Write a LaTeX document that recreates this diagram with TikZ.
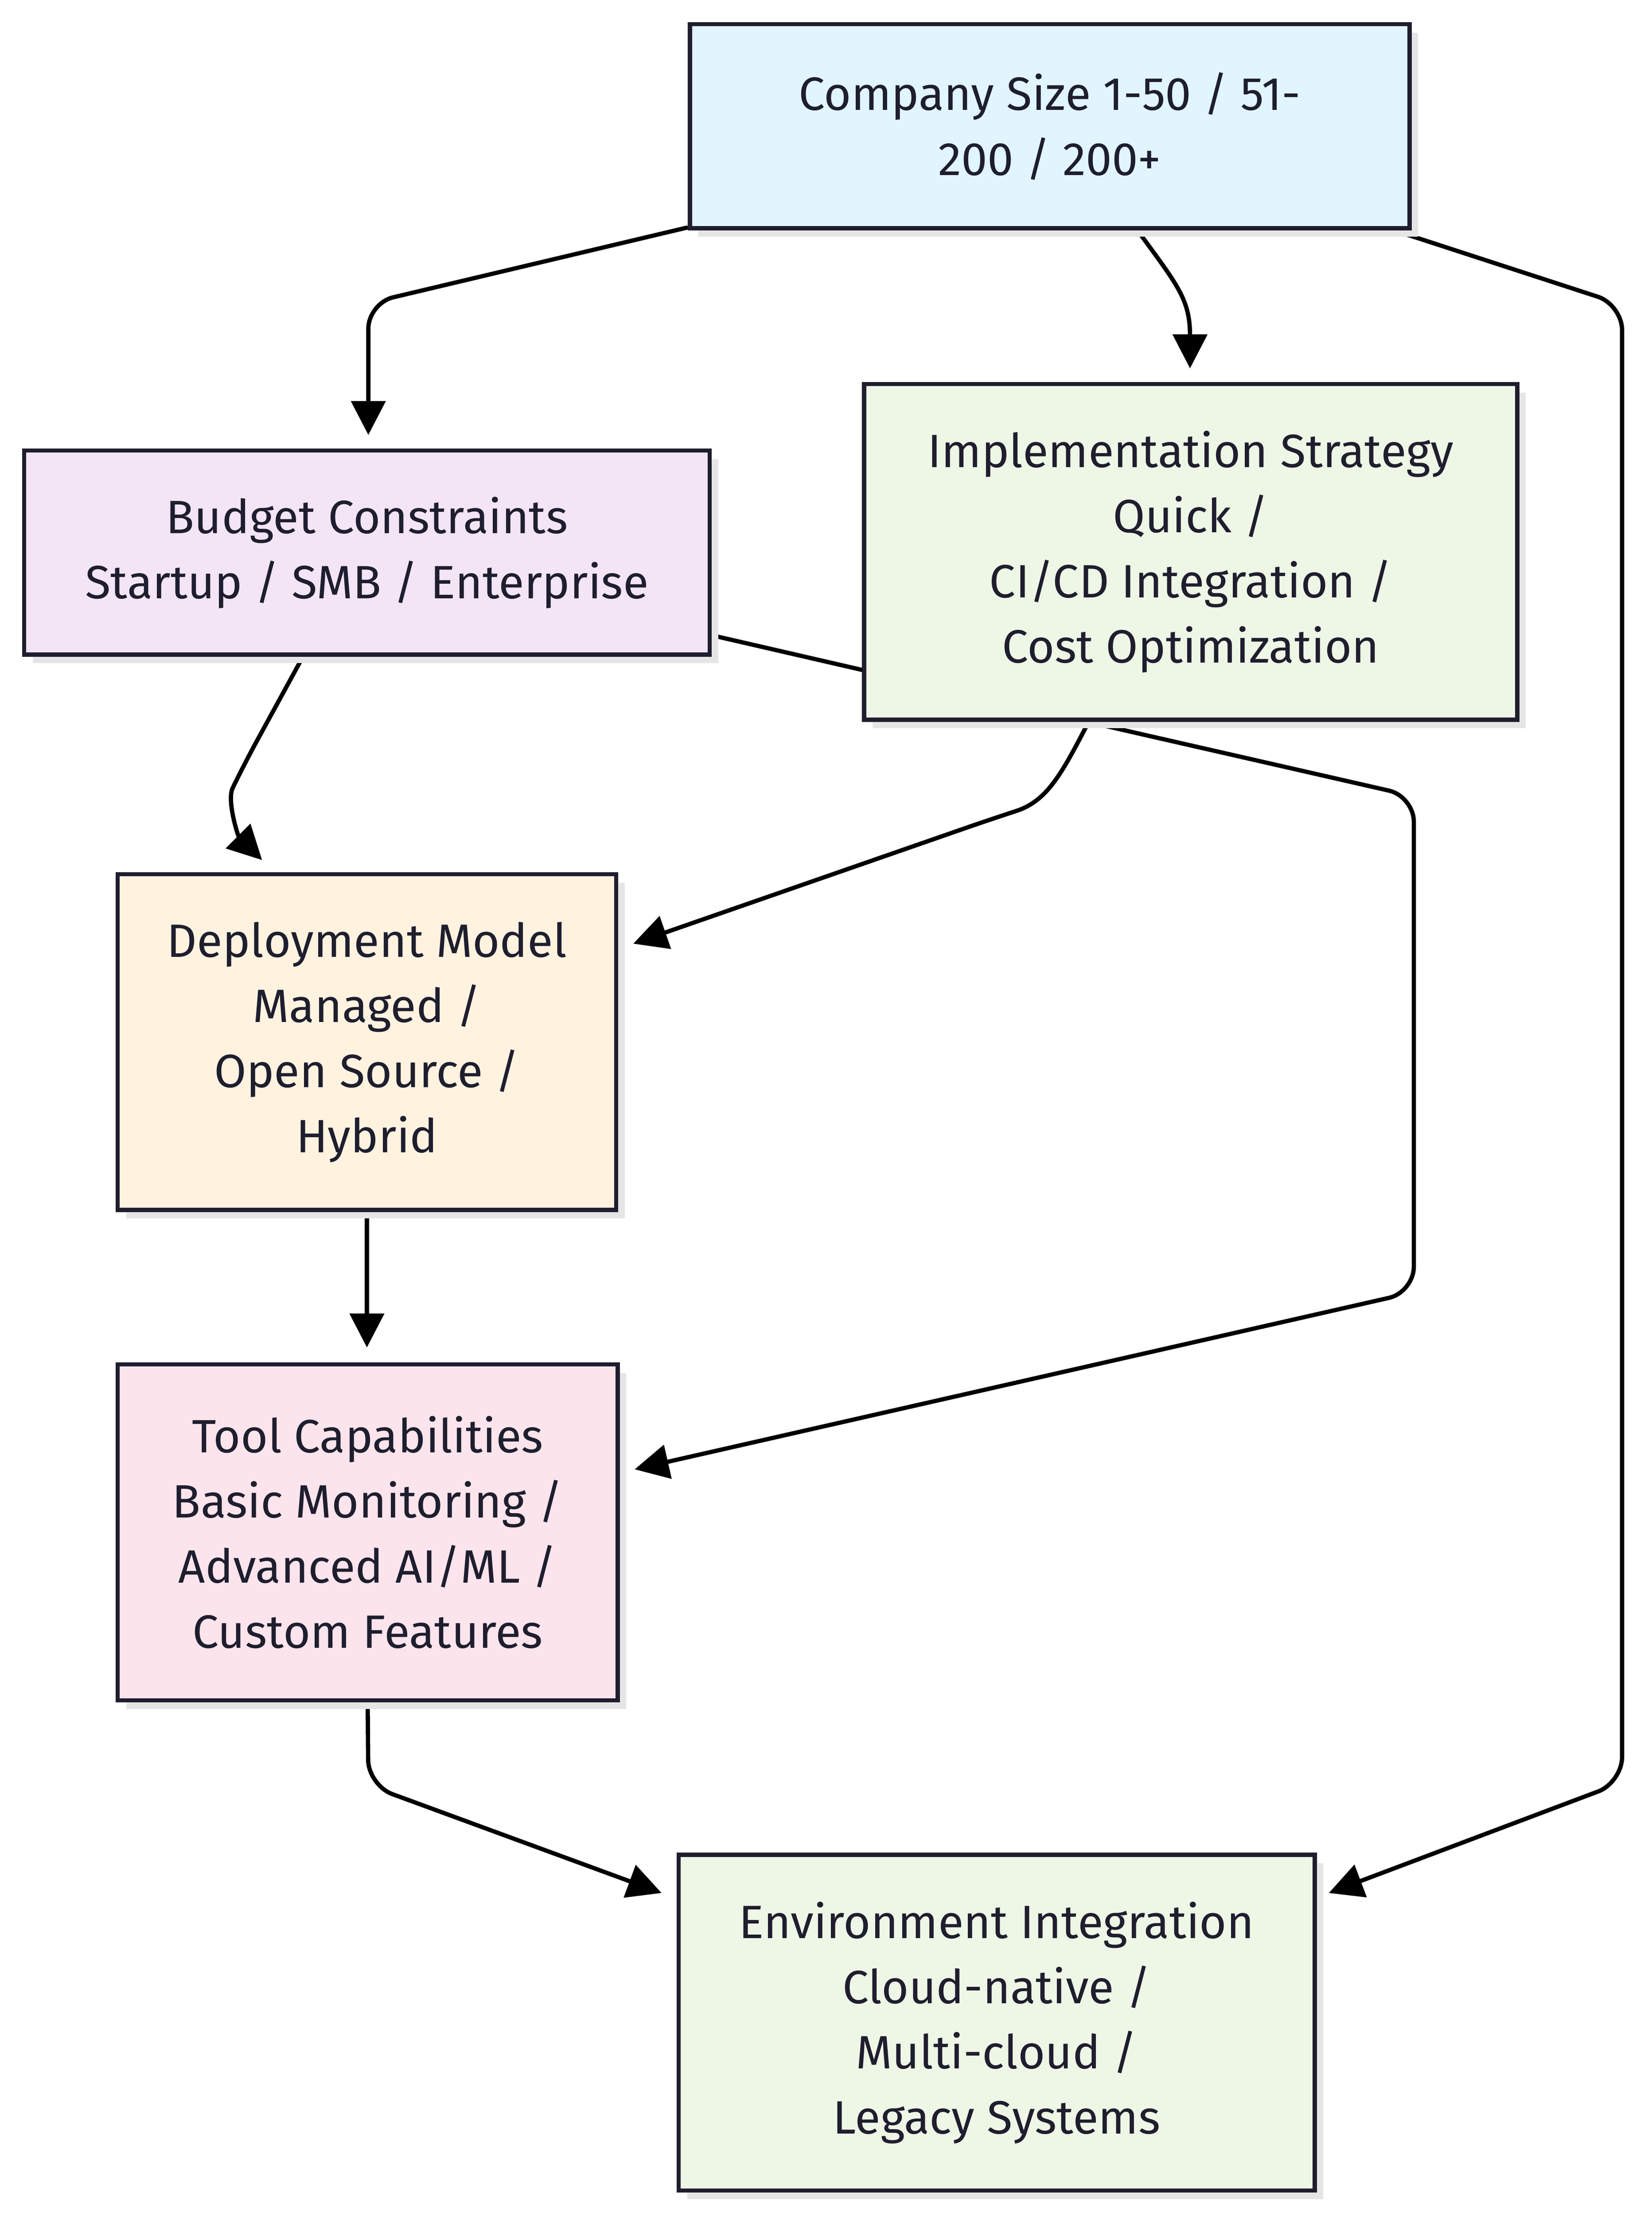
\documentclass[tikz,border=0pt]{standalone}
\usepackage{fontspec}
\setmainfont{Fira Sans}
\usetikzlibrary{arrows.meta,shadows,backgrounds}
\definecolor{cblue}{HTML}{E1F5FE}
\definecolor{cpurple}{HTML}{F3E5F5}
\definecolor{cgreen}{HTML}{EEF6E6}
\definecolor{corange}{HTML}{FFF3E0}
\definecolor{cpink}{HTML}{FCE4EC}
\definecolor{cline}{HTML}{1E1E2E}
\begin{document}
\begin{tikzpicture}[x=1pt,y=-1pt,
  box/.style={draw=cline,line width=3pt,align=center,inner sep=0pt,
    font=\fontsize{33}{46}\selectfont\color{cline},
    drop shadow={shadow xshift=6pt,shadow yshift=-6pt,fill=black!10,opacity=1}},
  edge/.style={draw=black,line width=3pt,rounded corners=18pt},
  arr/.style={edge,-{Triangle[length=24pt,width=24pt]}}]
\useasboundingbox (0,0) rectangle (1166,1564);
\node[box,fill=cblue,minimum width=508pt,minimum height=144pt] (company) at (741,89) {Company Size 1-50 / 51-\\200 / 200+};
\node[box,fill=cpurple,minimum width=484pt,minimum height=144pt] (budget) at (259,390) {Budget Constraints\\Startup / SMB / Enterprise};
\node[box,fill=cgreen,minimum width=461pt,minimum height=237pt] (impl) at (840.5,389.5) {Implementation Strategy\\Quick /\\CI/CD Integration /\\Cost Optimization};
\node[box,fill=corange,minimum width=352pt,minimum height=237pt] (deploy) at (259,735.5) {Deployment Model\\Managed /\\Open Source /\\Hybrid};
\node[box,fill=cpink,minimum width=353pt,minimum height=237pt] (tool) at (259.5,1081.5) {Tool Capabilities\\Basic Monitoring /\\Advanced AI/ML /\\Custom Features};
\node[box,fill=cgreen,minimum width=449pt,minimum height=237pt] (env) at (703.5,1427.5) {Environment Integration\\Cloud-native /\\Multi-cloud /\\Legacy Systems};
\begin{pgfonlayer}{background}
\draw[arr] ([yshift=2pt]company.south west) -- (260,214) -- (260,307);
\draw[arr] ([xshift=59pt,yshift=4pt]company.south) .. controls (830,200) and (840,210) .. (840,260);
\draw[arr] ([xshift=-25pt,yshift=4pt]company.south east) -- (1145,215) -- (1145,1258) -- (938,1336);
\draw[arr] ([xshift=-43pt,yshift=4pt]budget.south) -- (172,540) .. controls (160,565) and (168,590) .. (185,607);
\draw[arr] ([xshift=-6pt,yshift=-57pt]budget.east) -- (770,510) -- (998,562) -- (998,912) -- (448,1037);
\draw[arr] ([xshift=-70pt,yshift=4pt]impl.south) .. controls (750,545) and (740,565) .. (700,578) -- (447,666);
\draw[arr] ([yshift=4pt]deploy.south) -- (259,951);
\draw[arr] ([yshift=4pt]tool.south) -- (260,1260) -- (467,1336);
\end{pgfonlayer}
\end{tikzpicture}
\end{document}
